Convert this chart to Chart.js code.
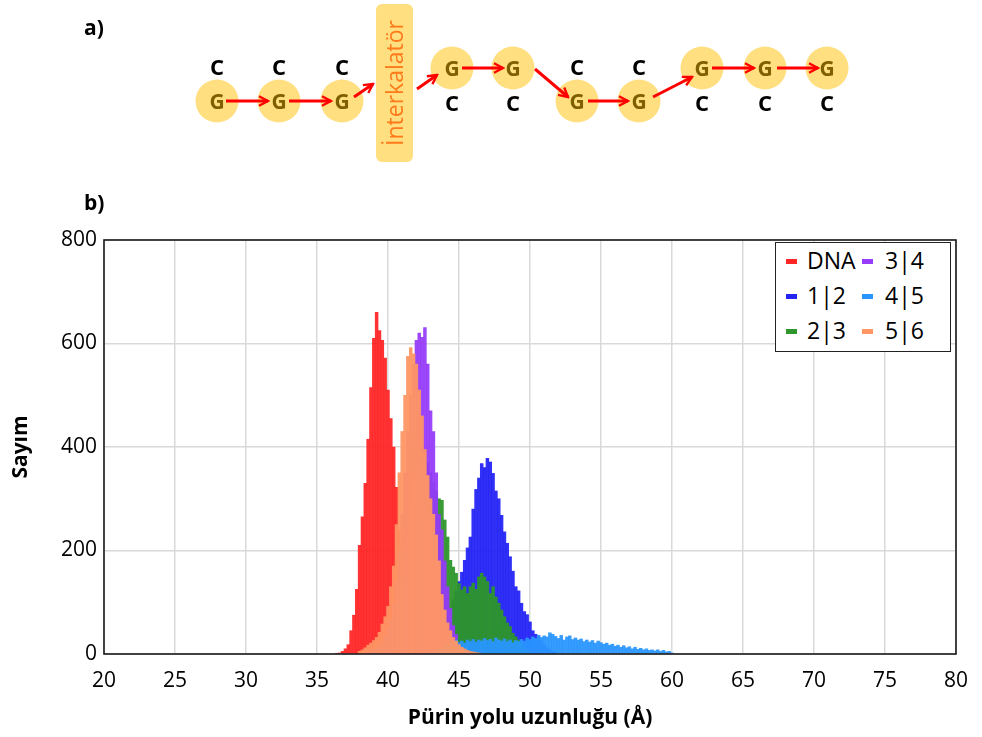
<!DOCTYPE html>
<html>
<head>
<meta charset="utf-8">
<script src="https://cdn.jsdelivr.net/npm/chart.js@4.4.0/dist/chart.umd.min.js"></script>
<style>
  body { margin: 0; background: #fff; }
  #wrap { position: relative; width: 982px; height: 737px; font-family: "Open Sans", "Noto Sans", sans-serif; }
  #chart { position: absolute; left: 0; top: 0; }
  #diagram { position: absolute; left: 0; top: 0; }
  .panel { position: absolute; font-weight: bold; font-size: 21px; }
  #legend { position: absolute; left: 775px; top: 242px; width: 174px; height: 108px;
            border: 1.5px solid #222; background: #fff; }
  .item { position: absolute; font-size: 23px; line-height: 23px; color: #000; }
  .mark { position: absolute; width: 11px; height: 5px; }
</style>
</head>
<body>
<div id="wrap">
  <canvas id="chart" width="982" height="737"></canvas>
  <svg id="diagram" width="982" height="170"></svg>
  <div class="panel" style="left:84px; top:13px;">a)</div>
  <div class="panel" style="left:84px; top:188px;">b)</div>
  <div id="legend"></div>
</div>
<script>
// histogram bins, 0.2 Å wide
const binWidth = 0.2;
const seriesLabels = ["DNA", "1|2", "2|3", "3|4", "4|5", "5|6"];
const seriesColors = ["#ff2626", "#2323f5", "#2e962a", "#963cfa", "#2996ff", "#ff9664"];

const dnaStart = 36.4;
const dnaCounts = [1, 2, 5, 10, 18, 45, 75, 125, 210, 265, 330, 415, 515, 610, 660, 625, 606, 572,
  510, 455, 400, 322, 240, 190, 140, 100, 70, 45, 28, 17, 10, 5, 3, 1];

const s12Start = 42.6;
const s12Counts = [3, 6, 10, 16, 24, 34, 46, 60, 75, 90, 105, 122, 140, 158, 181, 205, 226, 280,
  318, 340, 368, 360, 378, 371, 349, 315, 300, 268, 236, 214, 188, 160, 130, 122, 98, 82, 76, 62,
  45, 38, 35, 25, 18, 12, 8, 5, 3];

const s23Start = 40.0;
const s23Counts = [10, 20, 35, 60, 95, 140, 190, 240, 290, 330, 360, 380, 390, 385, 370, 350, 330,
  315, 300, 297, 259, 226, 181, 168, 156, 136, 124, 130, 117, 130, 137, 125, 149, 156, 149, 140,
  117, 130, 110, 98, 85, 72, 60, 53, 40, 33, 27, 21, 12, 6, 3];

const s34Start = 38.6;
const s34Counts = [3, 5, 8, 12, 18, 25, 35, 48, 65, 95, 140, 200, 270, 350, 430, 500, 560, 606,
  620, 612, 631, 560, 470, 430, 350, 270, 240, 180, 130, 88, 55, 38, 22, 12, 7, 4, 2];

const s45Start = 43.0;
const s45Counts = [2, 4, 6, 9, 12, 15, 18, 21, 24, 27, 22, 25, 21, 27, 24, 28, 23, 27, 25, 30, 26,
  28, 24, 31, 27, 25, 29, 24, 27, 22, 26, 24, 28, 25, 31, 28, 33, 30, 36, 32, 35, 33, 41, 38, 34,
  30, 36, 27, 33, 35, 28, 31, 27, 29, 24, 27, 23, 26, 21, 25, 22, 19, 21, 17, 19, 15, 17, 13, 16,
  12, 14, 10, 13, 9, 11, 8, 10, 7, 8, 6, 8, 5, 7, 4, 5, 2];

const s56Start = 38.0;
const s56Counts = [5, 8, 12, 17, 21, 26, 32, 42, 58, 72, 92, 130, 170, 250, 350, 430, 500, 575,
  592, 580, 560, 510, 460, 395, 345, 300, 270, 230, 180, 115, 85, 60, 45, 32, 25, 18, 13, 10, 7,
  5, 4, 3, 2];

const xTicks = [20, 25, 30, 35, 40, 45, 50, 55, 60, 65, 70, 75, 80];
const yTicks = [0, 200, 400, 600, 800];

function toPoints(start, counts) {
  return counts.map((c, i) => ({ x: Math.round((start + i * binWidth) * 10) / 10, y: c }));
}

const allSeries = [
  toPoints(dnaStart, dnaCounts),
  toPoints(s12Start, s12Counts),
  toPoints(s23Start, s23Counts),
  toPoints(s34Start, s34Counts),
  toPoints(s45Start, s45Counts),
  toPoints(s56Start, s56Counts),
];

// later series sit on top of earlier ones
const datasets = allSeries.map((pts, i) => ({
  label: seriesLabels[i],
  data: pts,
  order: allSeries.length - i,
  backgroundColor: seriesColors[i] + "f0",
  borderWidth: 0,
  barPercentage: 1,
  categoryPercentage: 1,
}));

const framePlugin = {
  id: "frame",
  afterDraw(chart) {
    const { ctx, chartArea: a } = chart;
    ctx.save();
    ctx.strokeStyle = "#1a1a1a";
    ctx.lineWidth = 1.6;
    ctx.strokeRect(a.left, a.top, a.right - a.left, a.bottom - a.top);
    ctx.restore();
  },
};

const tickFont = { family: '"Open Sans", "Noto Sans", sans-serif', size: 21 };
const titleFont = { family: '"Open Sans", "Noto Sans", sans-serif', size: 21, weight: "bold" };

new Chart(document.getElementById("chart"), {
  type: "bar",
  data: { datasets },
  options: {
    responsive: false,
    animation: false,
    grouped: false,
    layout: { padding: { top: 240, right: 19, left: 0, bottom: 0 } },
    plugins: { legend: { display: false }, tooltip: { enabled: false } },
    scales: {
      x: {
        type: "linear",
        offset: false,
        min: xTicks[0],
        max: xTicks[xTicks.length - 1],
        afterBuildTicks: (s) => { s.ticks = xTicks.map((v) => ({ value: v })); },
        afterFit: (s) => { s.height = 83; },
        grid: { color: "#d9d9d9", lineWidth: 1.5, drawTicks: false, offset: false },
        border: { display: false },
        ticks: { color: "#000", font: tickFont, padding: 14, maxRotation: 0 },
        title: { display: true, text: "Pürin yolu uzunluğu (Å)", color: "#000", font: titleFont,
                 padding: { top: 0, bottom: 6 } },
      },
      y: {
        min: yTicks[0],
        max: yTicks[yTicks.length - 1],
        afterBuildTicks: (s) => { s.ticks = yTicks.map((v) => ({ value: v })); },
        afterFit: (s) => { s.width = 104; },
        grid: { color: "#d9d9d9", lineWidth: 1.5, drawTicks: false },
        border: { display: false },
        ticks: { color: "#000", font: tickFont, padding: 7 },
        title: { display: true, text: "Sayım", color: "#000", font: titleFont,
                 padding: { top: 8, bottom: 0 } },
      },
    },
  },
  plugins: [framePlugin],
});

// legend, two columns
const legend = document.getElementById("legend");
seriesLabels.forEach((name, i) => {
  const col = Math.floor(i / 3), row = i % 3;
  const top = 6 + row * 35;
  const mark = document.createElement("div");
  mark.className = "mark";
  mark.style.background = seriesColors[i];
  mark.style.left = (10 + col * 76) + "px";
  mark.style.top = (top + 10) + "px";
  legend.appendChild(mark);
  const t = document.createElement("div");
  t.className = "item";
  t.style.left = (31 + col * 78) + "px";
  t.style.top = top + "px";
  t.textContent = name;
  legend.appendChild(t);
});

// schematic for panel a)
const svgNS = "http://www.w3.org/2000/svg";
const svg = document.getElementById("diagram");
function el(tag, attrs, text) {
  const e = document.createElementNS(svgNS, tag);
  for (const k in attrs) e.setAttribute(k, attrs[k]);
  if (text) e.textContent = text;
  svg.appendChild(e);
  return e;
}
const defs = el("defs", {});
const marker = document.createElementNS(svgNS, "marker");
marker.setAttribute("id", "head");
marker.setAttribute("viewBox", "0 0 10 10");
marker.setAttribute("refX", "8.5");
marker.setAttribute("refY", "5");
marker.setAttribute("markerWidth", "4");
marker.setAttribute("markerHeight", "4");
marker.setAttribute("orient", "auto");
const mp = document.createElementNS(svgNS, "path");
mp.setAttribute("d", "M1,1 L8.5,5 L1,9");
mp.setAttribute("fill", "none");
mp.setAttribute("stroke", "#ff0000");
mp.setAttribute("stroke-width", "2");
marker.appendChild(mp);
defs.appendChild(marker);

const yellow = "#ffdf80";
const baseX = [217, 279, 342, 452, 513, 577, 639, 702, 765, 827];
const baseUp = [false, false, false, true, true, false, false, true, true, true];
baseX.forEach((x, i) => {
  const cy = baseUp[i] ? 68 : 101;
  el("circle", { cx: x, cy: cy, r: 21.5, fill: yellow });
});
el("rect", { x: 376, y: 4, width: 37, height: 158, rx: 6, fill: yellow });

const arrows = [
  [226, 101, 268, 101], [289, 101, 331, 101], [354, 97, 373, 84], [417, 89, 437, 75],
  [462, 68, 503, 68], [535, 69, 568, 97], [588, 101, 628, 101], [653, 97, 692, 77],
  [712, 68, 754, 68], [777, 68, 818, 68],
];
arrows.forEach(([x1, y1, x2, y2]) => {
  el("line", { x1, y1, x2, y2, stroke: "#ff0000", "stroke-width": 3, "marker-end": "url(#head)" });
});

baseX.forEach((x, i) => {
  const cy = baseUp[i] ? 68 : 101;
  el("text", { x: x, y: cy + 7.5, "text-anchor": "middle", "font-size": 21, "font-weight": "bold",
               fill: "#7f6000", "font-family": "Open Sans, sans-serif" }, "G");
  const cyC = baseUp[i] ? 103 : 67;
  el("text", { x: x, y: cyC + 8, "text-anchor": "middle", "font-size": 22, "font-weight": "bold",
               fill: "#000", "font-family": "Open Sans, sans-serif" }, "C");
});
el("text", { x: 0, y: 0, transform: "translate(403,83) rotate(-90)", "text-anchor": "middle",
             "font-size": 23, fill: "#ff7a1a", "font-family": "Open Sans, sans-serif" }, "İnterkalatör");
</script>
</body>
</html>
